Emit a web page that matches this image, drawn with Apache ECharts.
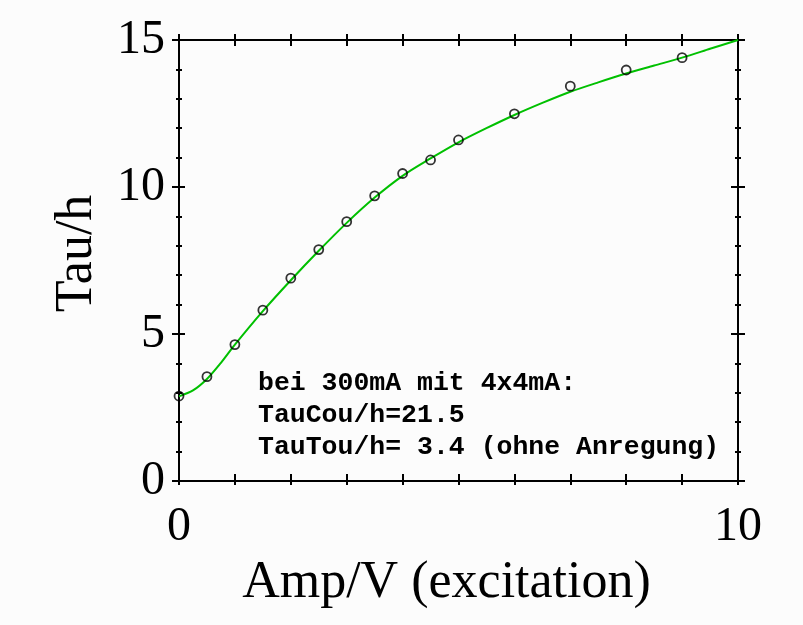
<!DOCTYPE html>
<html>
<head>
<meta charset="utf-8">
<script src="https://cdn.jsdelivr.net/npm/echarts@6/dist/echarts.min.js"></script>
<style>
html,body{margin:0;padding:0;background:#fcfcfc;}
#chart{width:803px;height:625px;}
</style>
</head>
<body>
<div id="chart"></div>
<script>
// Measured points (open circles)
const pointX = [0, 0.5, 1, 1.5, 2, 2.5, 3, 3.5, 4, 4.5, 5, 6, 7, 8, 9];
const pointY = [2.89, 3.55, 4.64, 5.81, 6.90, 7.87, 8.82, 9.70, 10.46, 10.92, 11.60, 12.49, 13.43, 13.98, 14.40];
// Fitted curve (green)
const curveX = [0, 0.25, 0.5, 0.75, 1, 1.5, 2, 2.5, 3, 3.5, 4, 4.5, 5, 5.5, 6, 6.5, 7, 7.5, 8, 8.5, 9, 9.5, 10];
const curveY = [2.88, 3.08, 3.47, 4.02, 4.64, 5.78, 6.83, 7.83, 8.78, 9.64, 10.38, 10.97, 11.52, 12.00, 12.45, 12.86, 13.24, 13.56, 13.86, 14.13, 14.40, 14.70, 15.0];
// Tick labels shown
const xTickLabels = [0, 10];
const yTickLabels = [0, 5, 10, 15];
const xTitle = 'Amp/V (excitation)';
const yTitle = 'Tau/h';
const noteLines = ['bei 300mA mit 4x4mA:', 'TauCou/h=21.5', 'TauTou/h= 3.4 (ohne Anregung)'];

const chart = echarts.init(document.getElementById('chart'));
const serif = 'Liberation Serif';
const black = '#000';
const gridBox = {left: 179, top: 40, width: 559, height: 441};

function xAx(grid, pos, inside, len, extra) {
  return Object.assign({
    type: 'value', gridIndex: grid, position: pos, min: 0, max: 10, interval: 1,
    axisLine: {show: true, onZero: false, lineStyle: {color: black, width: 2}},
    axisTick: {show: true, inside: inside, length: len, lineStyle: {color: black, width: 2}},
    axisLabel: {show: false},
    splitLine: {show: false}
  }, extra || {});
}
function yAx(grid, pos, inside, len, extra) {
  return Object.assign({
    type: 'value', gridIndex: grid, position: pos, min: 0, max: 15, interval: 5,
    axisLine: {show: true, onZero: false, lineStyle: {color: black, width: 2}},
    axisTick: {show: true, inside: inside, length: len, lineStyle: {color: black, width: 2}},
    minorTick: {show: true, splitNumber: 5, length: 3, lineStyle: {color: black, width: 2}},
    axisLabel: {show: false},
    splitLine: {show: false},
    minorSplitLine: {show: false}
  }, extra || {});
}

const option = {
  backgroundColor: '#fcfcfc',
  animation: false,
  grid: [Object.assign({}, gridBox), Object.assign({}, gridBox)],
  xAxis: [
    xAx(0, 'bottom', true, 7, {
      axisLabel: {show: true, margin: 22, fontFamily: serif, fontSize: 48, color: black,
        formatter: v => xTickLabels.indexOf(v) >= 0 ? String(v) : ''},
      name: xTitle, nameLocation: 'middle', nameGap: 76,
      nameTextStyle: {fontFamily: serif, fontSize: 52, color: black, padding: [0, 24, 0, 0]}
    }),
    xAx(0, 'top', true, 6),
    xAx(1, 'bottom', false, 4),
    xAx(1, 'top', false, 6)
  ],
  yAxis: [
    yAx(0, 'left', true, 6, {
      axisLabel: {show: true, margin: 14, fontFamily: serif, fontSize: 48, color: black,
        formatter: v => yTickLabels.indexOf(v) >= 0 ? String(v) : ''},
      name: yTitle, nameLocation: 'middle', nameGap: 76,
      nameTextStyle: {fontFamily: serif, fontSize: 52, color: black, padding: [0, 0, 0, 14]}
    }),
    yAx(0, 'right', true, 7),
    yAx(1, 'left', false, 7),
    yAx(1, 'right', false, 7)
  ],
  graphic: [{
    type: 'text', left: 258, top: 367, z: 50,
    style: {text: noteLines.join('\n'), font: 'bold 26.5px "Liberation Mono"', fill: black, lineHeight: 32}
  }],
  series: [
    {
      type: 'line', xAxisIndex: 0, yAxisIndex: 0,
      data: curveX.map((x, i) => [x, curveY[i]]),
      smooth: 0.3, showSymbol: false, symbol: 'none',
      lineStyle: {color: '#00c000', width: 2}, z: 3
    },
    {
      type: 'scatter', xAxisIndex: 0, yAxisIndex: 0,
      data: pointX.map((x, i) => [x, pointY[i]]),
      symbol: 'circle', symbolSize: 9,
      itemStyle: {color: 'rgba(0,0,0,0)', borderColor: black, borderWidth: 1.8}, z: 4
    }
  ]
};
chart.setOption(option);
</script>
</body>
</html>
